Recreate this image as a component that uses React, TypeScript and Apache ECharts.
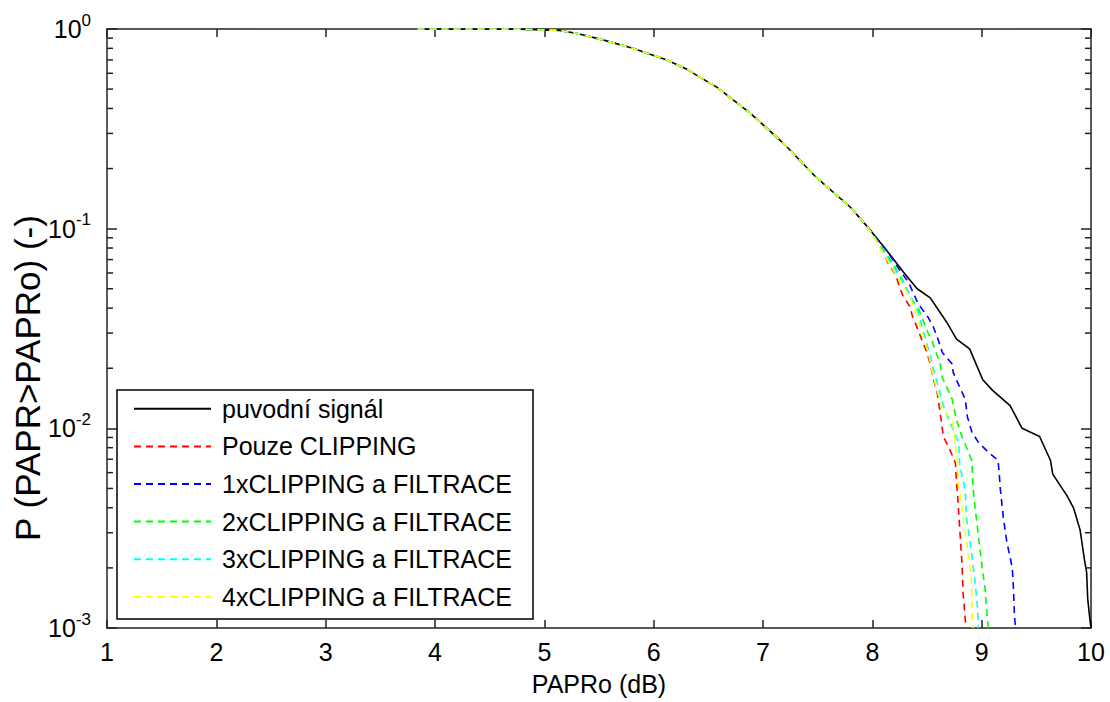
import React, { useEffect, useRef } from "react";
import * as echarts from "echarts";

const FONT = "'Liberation Sans', Arial, Helvetica, sans-serif";

// x ticks
const xTicks = [1, 2, 3, 4, 5, 6, 7, 8, 9, 10];
const yLabel = "P (PAPR>PAPRo) (-)";
const xLabel = "PAPRo (dB)";

// shared upper part of all curves (PAPRo dB, probability)
const commonCurve: [number, number][] = [
  [3.84, 1.0], [4.3, 1.0], [4.78, 0.998], [5.14, 0.984], [5.3, 0.95], [5.51, 0.89],
  [5.81, 0.8], [6.12, 0.7], [6.3, 0.63], [6.58, 0.51], [6.88, 0.38], [7.18, 0.27],
  [7.49, 0.18], [7.8, 0.128], [7.95, 0.103],
];

const originalTail: [number, number][] = [
  [8.13, 0.078], [8.28, 0.061], [8.41, 0.05], [8.53, 0.045], [8.68, 0.034], [8.77, 0.028],
  [8.89, 0.025], [9.01, 0.0175], [9.1, 0.0155], [9.26, 0.013], [9.37, 0.01], [9.53, 0.0091],
  [9.63, 0.0069], [9.65, 0.0059], [9.78, 0.0046], [9.84, 0.004], [9.9, 0.0031], [9.94, 0.0022],
  [9.96, 0.0019], [9.97, 0.0014], [9.99, 0.0011], [10.0, 0.001],
];

const clipOnlyTail: [number, number][] = [
  [8.0, 0.095], [8.09, 0.078], [8.14, 0.068], [8.21, 0.059], [8.25, 0.051], [8.28, 0.046],
  [8.34, 0.041], [8.37, 0.036], [8.42, 0.031], [8.46, 0.027], [8.5, 0.024], [8.54, 0.02],
  [8.56, 0.0175], [8.59, 0.0155], [8.62, 0.012], [8.65, 0.0091], [8.71, 0.0078], [8.76, 0.0067],
  [8.77, 0.0053], [8.78, 0.0046], [8.8, 0.0031], [8.82, 0.0021], [8.83, 0.0015], [8.85, 0.0011],
  [8.86, 0.001],
];

const clip1Tail: [number, number][] = [
  [8.13, 0.078], [8.25, 0.062], [8.33, 0.054], [8.42, 0.042], [8.51, 0.036], [8.56, 0.032],
  [8.6, 0.028], [8.64, 0.024], [8.73, 0.021], [8.74, 0.019], [8.79, 0.0165], [8.85, 0.014],
  [8.87, 0.0114], [8.91, 0.0096], [8.97, 0.0085], [9.06, 0.0076], [9.15, 0.0069], [9.16, 0.006],
  [9.17, 0.005], [9.2, 0.0035], [9.23, 0.0027], [9.28, 0.002], [9.29, 0.0016], [9.3, 0.00115],
  [9.31, 0.001],
];

const clip2Tail: [number, number][] = [
  [8.07, 0.083], [8.18, 0.068], [8.28, 0.055], [8.34, 0.046], [8.42, 0.04], [8.51, 0.03],
  [8.55, 0.027], [8.62, 0.021], [8.64, 0.018], [8.73, 0.014], [8.77, 0.011], [8.82, 0.0091],
  [8.87, 0.0078], [8.91, 0.0069], [8.92, 0.0051], [8.94, 0.004], [8.97, 0.0029], [9.01, 0.0019],
  [9.03, 0.0016], [9.05, 0.00115], [9.06, 0.001],
];

const clip3Tail: [number, number][] = [
  [8.05, 0.085], [8.15, 0.07], [8.3, 0.052], [8.42, 0.038], [8.53, 0.023], [8.58, 0.018],
  [8.65, 0.013], [8.7, 0.011], [8.79, 0.0085], [8.8, 0.0065], [8.85, 0.0049], [8.86, 0.0036],
  [8.89, 0.0028], [8.92, 0.0021], [8.94, 0.0017], [8.96, 0.0013], [8.97, 0.001],
];

const clip4Tail: [number, number][] = [
  [8.02, 0.09], [8.1, 0.075], [8.25, 0.055], [8.35, 0.045], [8.42, 0.035], [8.51, 0.024],
  [8.56, 0.018], [8.64, 0.0125], [8.73, 0.011], [8.77, 0.0076], [8.79, 0.0052], [8.82, 0.004],
  [8.86, 0.0028], [8.89, 0.0021], [8.91, 0.0016], [8.915, 0.0011], [8.92, 0.001],
];

const seriesNames = [
  "puvodní signál",
  "Pouze CLIPPING",
  "1xCLIPPING a FILTRACE",
  "2xCLIPPING a FILTRACE",
  "3xCLIPPING a FILTRACE",
  "4xCLIPPING a FILTRACE",
];
const seriesTails = [originalTail, clipOnlyTail, clip1Tail, clip2Tail, clip3Tail, clip4Tail];
const seriesColors = ["#000000", "#ff0000", "#0000ff", "#00ff00", "#00ffff", "#ffff00"];
const seriesDashed = [false, true, true, true, true, true];

export default function App() {
  const ref = useRef<HTMLDivElement>(null);
  useEffect(() => {
    if (!ref.current) return;
    const chart = echarts.init(ref.current, null, { renderer: "svg" });
    const axisColor = "#222";
    const grid = { left: 107, right: 19, top: 29, bottom: 74 };
    const option: any = {
      animation: false,
      backgroundColor: "#fff",
      grid,
      xAxis: [
        {
          type: "value",
          min: 1,
          max: 10,
          interval: 1,
          name: xLabel,
          nameLocation: "middle",
          nameGap: 43,
          nameTextStyle: { fontSize: 25, color: "#000", fontFamily: FONT },
          axisLine: { show: true, onZero: false, lineStyle: { color: axisColor, width: 1.5 } },
          axisTick: { inside: true, length: 8, lineStyle: { color: axisColor, width: 1.5 } },
          axisLabel: { fontSize: 25, color: "#000", fontFamily: FONT, margin: 11 },
          splitLine: { show: false },
        },
        {
          type: "value",
          position: "top",
          min: 1,
          max: 10,
          interval: 1,
          axisLine: { show: true, onZero: false, lineStyle: { color: axisColor, width: 1.5 } },
          axisTick: { inside: true, length: 8, lineStyle: { color: axisColor, width: 1.5 } },
          axisLabel: { show: false },
          splitLine: { show: false },
        },
      ],
      yAxis: [
        {
          type: "log",
          logBase: 10,
          min: 0.001,
          max: 1,
          axisLine: { show: true, lineStyle: { color: axisColor, width: 1.5 } },
          axisTick: { inside: true, length: 10, lineStyle: { color: axisColor, width: 1.5 } },
          axisLabel: {
            margin: 16,
            formatter: (v: number) => `{b|10}{s|${Math.round(Math.log10(v))}}`,
            rich: {
              b: { fontSize: 25, color: "#000", fontFamily: FONT },
              s: { fontSize: 17, color: "#000", fontFamily: FONT, padding: [0, 0, 18, 0] },
            },
          },
          splitLine: { show: false },
        },
        {
          type: "log",
          logBase: 10,
          min: 0.001,
          max: 1,
          position: "right",
          axisLine: { show: true, lineStyle: { color: axisColor, width: 1.5 } },
          axisTick: { inside: true, length: 10, lineStyle: { color: axisColor, width: 1.5 } },
          axisLabel: { show: false },
          splitLine: { show: false },
        },
      ],
      legend: {
        orient: "vertical",
        left: 133,
        top: 390,
        padding: 0,
        itemWidth: 77,
        itemHeight: 10,
        itemGap: 0,
        z: 10,
        itemStyle: { opacity: 0 },
        textStyle: {
          fontSize: 25,
          lineHeight: 37.6,
          color: "#000",
          fontFamily: FONT,
          padding: [0, 0, 0, 6],
        },
        data: seriesNames,
      },
      series: seriesNames.map((name, i) => ({
        name,
        type: "line",
        showSymbol: false,
        symbol: "none",
        data: [...commonCurve, ...seriesTails[i]],
        lineStyle: {
          color: seriesColors[i],
          width: 1.6,
          type: seriesDashed[i] ? [7, 5] : "solid",
        },
        itemStyle: { color: seriesColors[i] },
        z: 2 + i,
      })),
    };
    chart.setOption(option);

    // log minor ticks (2..9 per decade) drawn through the axis scale
    const xl = chart.convertToPixel({ xAxisIndex: 0 }, 1) as number;
    const xr = chart.convertToPixel({ xAxisIndex: 0 }, 10) as number;
    const g: any[] = [
      {
        type: "rect",
        z: 8,
        shape: { x: 117, y: 390, width: 416, height: 229 },
        style: { fill: "#fff", stroke: "#000", lineWidth: 1.5 },
      },
      {
        type: "text",
        x: 27,
        y: 378,
        rotation: Math.PI / 2,
        style: {
          text: yLabel,
          fontSize: 35,
          fontFamily: FONT,
          fill: "#000",
          align: "center",
          verticalAlign: "middle",
        },
      },
    ];
    [-3, -2, -1].forEach((d) => {
      for (let k = 2; k <= 9; k++) {
        const v = k * Math.pow(10, d);
        const y = chart.convertToPixel({ yAxisIndex: 0 }, v) as number;
        g.push({ type: "line", z: 9, shape: { x1: xl, y1: y, x2: xl + 6, y2: y }, style: { stroke: axisColor, lineWidth: 1.5 } });
        g.push({ type: "line", z: 9, shape: { x1: xr, y1: y, x2: xr - 6, y2: y }, style: { stroke: axisColor, lineWidth: 1.5 } });
      }
    });
    chart.setOption({ graphic: g });
    return () => chart.dispose();
  }, []);
  return <div ref={ref} style={{ position: "fixed", left: 0, top: 0, width: 1110, height: 702 }} />;
}
